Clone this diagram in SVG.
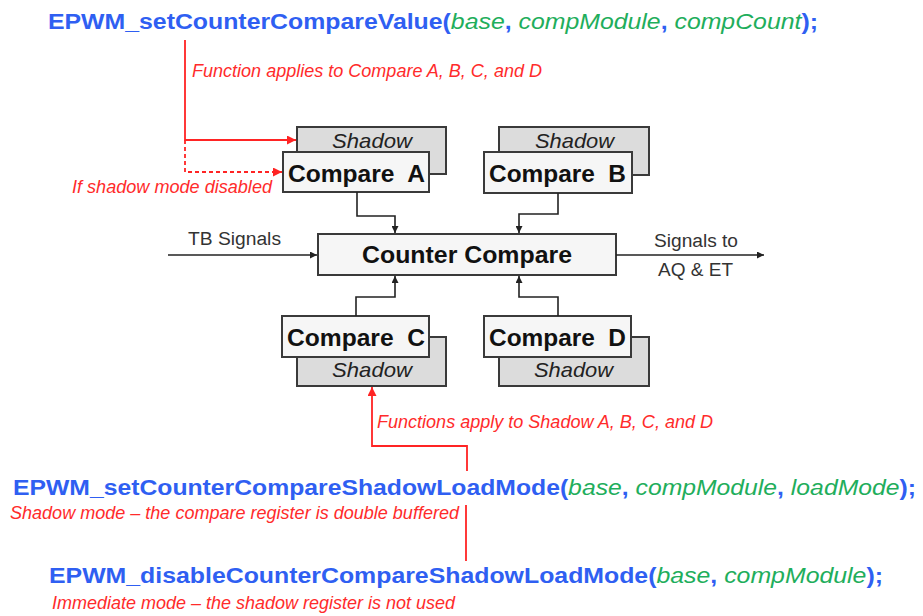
<svg xmlns="http://www.w3.org/2000/svg" width="923" height="616" viewBox="0 0 923 616">
  <style>
    .fn { font-family: "Liberation Sans", Arial, sans-serif; font-weight: bold; font-size: 22px; fill: #2f5ff2; }
    .arg { font-weight: normal; font-style: italic; fill: #1fae5c; }
    .note { font-family: "Liberation Sans", Arial, sans-serif; font-style: italic; font-size: 19px; fill: #ff2b2b; }
    .reg { fill: #f6f6f6; stroke: #3a3a3a; stroke-width: 2; }
    .shd { fill: #dcdcdc; stroke: #3a3a3a; stroke-width: 2; }
    .lbl { font-family: "Liberation Sans", Arial, sans-serif; font-weight: bold; font-size: 23px; fill: #111; }
    .shl { font-family: "Liberation Sans", Arial, sans-serif; font-style: italic; font-size: 21px; fill: #222; }
    .sig { font-family: "Liberation Sans", Arial, sans-serif; font-size: 18px; fill: #333; }
    .wire { fill: none; stroke: #222; stroke-width: 1.6; }
    .red { fill: none; stroke: #ff2424; stroke-width: 1.8; }
    .dash { stroke-dasharray: 4 3; }
  </style>
  <defs>
    <marker id="blk" viewBox="0 0 10 10" refX="10" refY="5" markerWidth="7" markerHeight="7" markerUnits="userSpaceOnUse" orient="auto">
      <path d="M0,0 L10,5 L0,10 z" fill="#222"/>
    </marker>
    <marker id="redhead" viewBox="0 0 10 10" refX="10" refY="5" markerWidth="9" markerHeight="9" markerUnits="userSpaceOnUse" orient="auto">
      <path d="M0,0 L10,5 L0,10 z" fill="#ff2424"/>
    </marker>
  </defs>

  <!-- API calls and notes -->
  <g id="fn-set-value">
    <text class="fn" x="48" y="29" textLength="770" lengthAdjust="spacingAndGlyphs">EPWM_setCounterCompareValue(<tspan class="arg">base</tspan>, <tspan class="arg">compModule</tspan>, <tspan class="arg">compCount</tspan>);</text>
    <text class="note" x="192" y="77" textLength="350" lengthAdjust="spacingAndGlyphs">Function applies to Compare A, B, C, and D</text>
    <text class="note" x="72" y="193" textLength="200" lengthAdjust="spacingAndGlyphs">If shadow mode disabled</text>
  </g>
  <g id="fn-set-shadow">
    <text class="note" x="377" y="428" textLength="336" lengthAdjust="spacingAndGlyphs">Functions apply to Shadow A, B, C, and D</text>
    <text class="fn" x="13" y="495" textLength="903" lengthAdjust="spacingAndGlyphs">EPWM_setCounterCompareShadowLoadMode(<tspan class="arg">base</tspan>, <tspan class="arg">compModule</tspan>, <tspan class="arg">loadMode</tspan>);</text>
    <text class="note" x="10" y="519" textLength="449" lengthAdjust="spacingAndGlyphs">Shadow mode – the compare register is double buffered</text>
  </g>
  <g id="fn-disable-shadow">
    <text class="fn" x="49" y="583" textLength="834" lengthAdjust="spacingAndGlyphs">EPWM_disableCounterCompareShadowLoadMode(<tspan class="arg">base</tspan>, <tspan class="arg">compModule</tspan>);</text>
    <text class="note" x="52" y="609" textLength="403" lengthAdjust="spacingAndGlyphs">Immediate mode – the shadow register is not used</text>
  </g>

  <!-- Compare registers with their shadow registers -->
  <g id="compare-a">
    <rect class="shd" x="297" y="127" width="149" height="47"/>
    <text class="shl" x="332" y="148" textLength="80" lengthAdjust="spacingAndGlyphs">Shadow</text>
    <rect class="reg" x="283" y="152" width="146" height="40"/>
    <text class="lbl" x="288" y="182" textLength="137" lengthAdjust="spacingAndGlyphs" xml:space="preserve">Compare  A</text>
  </g>
  <g id="compare-b">
    <rect class="shd" x="499" y="127" width="150" height="48"/>
    <text class="shl" x="535" y="148" textLength="79" lengthAdjust="spacingAndGlyphs">Shadow</text>
    <rect class="reg" x="484" y="152" width="148" height="41"/>
    <text class="lbl" x="489" y="182" textLength="137" lengthAdjust="spacingAndGlyphs" xml:space="preserve">Compare  B</text>
  </g>
  <g id="compare-c">
    <rect class="shd" x="297" y="337" width="149" height="49"/>
    <text class="shl" x="332" y="377" textLength="80" lengthAdjust="spacingAndGlyphs">Shadow</text>
    <rect class="reg" x="282" y="316" width="147" height="41"/>
    <text class="lbl" x="287" y="346" textLength="138" lengthAdjust="spacingAndGlyphs" xml:space="preserve">Compare  C</text>
  </g>
  <g id="compare-d">
    <rect class="shd" x="499" y="337" width="150" height="49"/>
    <text class="shl" x="534" y="377" textLength="79" lengthAdjust="spacingAndGlyphs">Shadow</text>
    <rect class="reg" x="484" y="316" width="147" height="41"/>
    <text class="lbl" x="489" y="346" textLength="137" lengthAdjust="spacingAndGlyphs" xml:space="preserve">Compare  D</text>
  </g>
  <g id="counter-compare">
    <rect class="reg" x="318" y="234" width="298" height="41"/>
    <text class="lbl" x="362" y="263" textLength="210" lengthAdjust="spacingAndGlyphs">Counter Compare</text>
  </g>
  <g id="signal-labels">
    <text class="sig" x="188" y="245" textLength="93" lengthAdjust="spacingAndGlyphs">TB Signals</text>
    <text class="sig" x="654" y="247" textLength="84" lengthAdjust="spacingAndGlyphs">Signals to</text>
    <text class="sig" x="658" y="276" textLength="75" lengthAdjust="spacingAndGlyphs">AQ &amp; ET</text>
  </g>

  <!-- Connectors -->
  <g id="connectors">
    <path class="wire" d="M357,192 V216 H395 V233" marker-end="url(#blk)"/>
    <path class="wire" d="M558,193 V214 H519 V233" marker-end="url(#blk)"/>
    <path class="wire" d="M356,316 V297 H395 V276" marker-end="url(#blk)"/>
    <path class="wire" d="M558,316 V297 H519 V276" marker-end="url(#blk)"/>
    <path class="wire" d="M168,255 H317" marker-end="url(#blk)"/>
    <path class="wire" d="M616,255 H764" marker-end="url(#blk)"/>
    <path class="red" d="M185,40 V140 H296" marker-end="url(#redhead)"/>
    <path class="red dash" d="M185,140 V172 H282" marker-end="url(#redhead)"/>
    <path class="red" d="M467,471 V446 H372 V387" marker-end="url(#redhead)"/>
    <path class="red" d="M466,505 V561"/>
  </g>
</svg>
